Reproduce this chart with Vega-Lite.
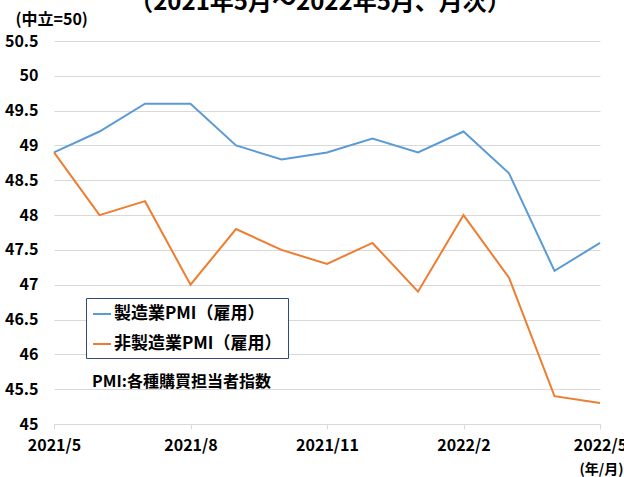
{
  "$schema": "https://vega.github.io/schema/vega-lite/v6.json",
  "autosize": "none",
  "padding": {"left": 54, "top": 41, "right": 24, "bottom": 53},
  "width": 546,
  "height": 383,
  "background": "white",
  "title": {
    "text": "（2021年5月～2022年5月、月次）",
    "fontSize": 24,
    "fontWeight": "bold",
    "font": "Noto Sans CJK JP",
    "color": "black",
    "anchor": "middle",
    "frame": "group",
    "dx": -7,
    "dy": 8
  },
  "config": {
    "font": "Noto Sans CJK JP",
    "view": {"stroke": null}
  },
  "datasets": {
    "pmi": [
      {"month": "2021/5", "series": "製造業PMI（雇用）", "value": 48.9},
      {"month": "2021/6", "series": "製造業PMI（雇用）", "value": 49.2},
      {"month": "2021/7", "series": "製造業PMI（雇用）", "value": 49.6},
      {"month": "2021/8", "series": "製造業PMI（雇用）", "value": 49.6},
      {"month": "2021/9", "series": "製造業PMI（雇用）", "value": 49.0},
      {"month": "2021/10", "series": "製造業PMI（雇用）", "value": 48.8},
      {"month": "2021/11", "series": "製造業PMI（雇用）", "value": 48.9},
      {"month": "2021/12", "series": "製造業PMI（雇用）", "value": 49.1},
      {"month": "2022/1", "series": "製造業PMI（雇用）", "value": 48.9},
      {"month": "2022/2", "series": "製造業PMI（雇用）", "value": 49.2},
      {"month": "2022/3", "series": "製造業PMI（雇用）", "value": 48.6},
      {"month": "2022/4", "series": "製造業PMI（雇用）", "value": 47.2},
      {"month": "2022/5", "series": "製造業PMI（雇用）", "value": 47.6},
      {"month": "2021/5", "series": "非製造業PMI（雇用）", "value": 48.9},
      {"month": "2021/6", "series": "非製造業PMI（雇用）", "value": 48.0},
      {"month": "2021/7", "series": "非製造業PMI（雇用）", "value": 48.2},
      {"month": "2021/8", "series": "非製造業PMI（雇用）", "value": 47.0},
      {"month": "2021/9", "series": "非製造業PMI（雇用）", "value": 47.8},
      {"month": "2021/10", "series": "非製造業PMI（雇用）", "value": 47.5},
      {"month": "2021/11", "series": "非製造業PMI（雇用）", "value": 47.3},
      {"month": "2021/12", "series": "非製造業PMI（雇用）", "value": 47.6},
      {"month": "2022/1", "series": "非製造業PMI（雇用）", "value": 46.9},
      {"month": "2022/2", "series": "非製造業PMI（雇用）", "value": 48.0},
      {"month": "2022/3", "series": "非製造業PMI（雇用）", "value": 47.1},
      {"month": "2022/4", "series": "非製造業PMI（雇用）", "value": 45.4},
      {"month": "2022/5", "series": "非製造業PMI（雇用）", "value": 45.3}
    ],
    "note": [
      {"label": "PMI:各種購買担当者指数", "month": "2021/8", "value": 45.6}
    ]
  },
  "encoding": {
    "x": {
      "field": "month",
      "type": "ordinal",
      "sort": null,
      "scale": {
        "type": "point",
        "padding": 0,
        "domain": ["2021/5", "2021/6", "2021/7", "2021/8", "2021/9", "2021/10", "2021/11", "2021/12", "2022/1", "2022/2", "2022/3", "2022/4", "2022/5"]
      },
      "axis": {
        "values": ["2021/5", "2021/8", "2021/11", "2022/2", "2022/5"],
        "labelAngle": 0,
        "labelFontSize": 16,
        "labelFontWeight": "bold",
        "labelColor": "black",
        "labelPadding": 8,
        "labelOverlap": false,
        "labelBound": false,
        "domainColor": "#D9D9D9",
        "tickColor": "#D9D9D9",
        "tickSize": 5,
        "grid": false,
        "title": "(年/月)",
        "titleFontSize": 14,
        "titleFontWeight": "bold",
        "titleColor": "black",
        "titleAlign": "right",
        "titleAnchor": "end",
        "titleX": 569,
        "titleY": 45,
        "titleBaseline": "middle"
      }
    },
    "y": {
      "field": "value",
      "type": "quantitative",
      "scale": {"domain": [45, 50.5], "nice": false, "zero": false},
      "axis": {
        "values": [45, 45.5, 46, 46.5, 47, 47.5, 48, 48.5, 49, 49.5, 50, 50.5],
        "format": "~g",
        "labelFontSize": 16,
        "labelFontWeight": "bold",
        "labelColor": "black",
        "labelPadding": 16,
        "labelOverlap": false,
        "domain": false,
        "ticks": false,
        "grid": true,
        "gridColor": "#D9D9D9",
        "title": "(中立=50)",
        "titleAngle": 0,
        "titleFontSize": 16,
        "titleFontWeight": "bold",
        "titleColor": "black",
        "titleAlign": "left",
        "titleBaseline": "middle",
        "titleX": -39,
        "titleY": -22
      }
    }
  },
  "layer": [
    {
      "data": {"name": "pmi"},
      "mark": {"type": "line", "strokeWidth": 2},
      "encoding": {
        "color": {
          "field": "series",
          "type": "nominal",
          "scale": {
            "domain": ["製造業PMI（雇用）", "非製造業PMI（雇用）"],
            "range": ["#5B9BD5", "#ED7D31"]
          },
          "legend": {
            "title": null,
            "orient": "none",
            "legendX": 32,
            "legendY": 257,
            "direction": "vertical",
            "fillColor": "white",
            "strokeColor": "#2F4A7A",
            "padding": 6,
            "symbolType": "stroke",
            "symbolSize": 324,
            "symbolStrokeWidth": 2,
            "labelFontSize": 17,
            "labelLimit": 0,
            "labelFontWeight": "bold",
            "labelColor": "black",
            "labelOffset": 2,
            "rowPadding": 12
          }
        }
      }
    },
    {
      "data": {"name": "note"},
      "mark": {"type": "text", "fontSize": 16, "fontWeight": "bold", "color": "black", "dx": -9, "align": "center", "baseline": "middle"},
      "encoding": {
        "text": {"field": "label"}
      }
    }
  ]
}
